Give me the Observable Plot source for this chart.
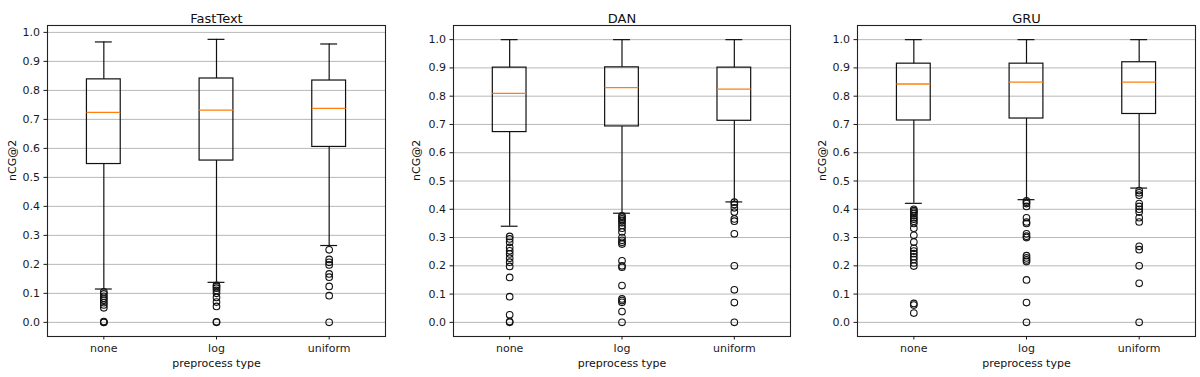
<!DOCTYPE html>
<html>
<head>
<meta charset="utf-8">
<script src="https://cdn.jsdelivr.net/npm/d3@7"></script>
<script src="https://cdn.jsdelivr.net/npm/@observablehq/plot@0.6"></script>
<style>
  html, body { margin: 0; padding: 0; background: #fff; }
  #row { display: flex; width: 1200px; height: 377px; }
  #row svg { display: block; }
</style>
</head>
<body>
<div id="row"></div>
<script>
// Categories and tick labels
const categories = ["none", "log", "uniform"];
const yTicks = [0, 0.1, 0.2, 0.3, 0.4, 0.5, 0.6, 0.7, 0.8, 0.9, 1.0];
const xLabel = "preprocess type";
const yLabel = "nCG@2";

// FastText
const fastTextLow    = [0.115, 0.138, 0.265];
const fastTextQ1     = [0.546, 0.558, 0.605];
const fastTextMedian = [0.724, 0.732, 0.738];
const fastTextQ3     = [0.838, 0.841, 0.834];
const fastTextHigh   = [0.967, 0.976, 0.960];
const fastTextOutliers = [
  [0.105, 0.098, 0.090, 0.083, 0.076, 0.068, 0.060, 0.050, 0.003, 0.0, 0.0],
  [0.128, 0.124, 0.118, 0.110, 0.100, 0.086, 0.070, 0.055, 0.002, 0.0],
  [0.250, 0.217, 0.207, 0.198, 0.167, 0.156, 0.124, 0.092, 0.0]
];

// DAN
const danLow    = [0.340, 0.386, 0.426];
const danQ1     = [0.673, 0.693, 0.713];
const danMedian = [0.810, 0.830, 0.825];
const danQ3     = [0.901, 0.902, 0.901];
const danHigh   = [1.0, 1.0, 1.0];
const danOutliers = [
  [0.304, 0.295, 0.283, 0.265, 0.253, 0.242, 0.227, 0.213, 0.198, 0.159, 0.091, 0.027, 0.003, 0.0],
  [0.377, 0.372, 0.366, 0.360, 0.352, 0.343, 0.333, 0.320, 0.300, 0.290, 0.283, 0.277, 0.218, 0.200, 0.195, 0.130, 0.083, 0.077, 0.071, 0.038, 0.0],
  [0.425, 0.417, 0.405, 0.390, 0.366, 0.358, 0.313, 0.200, 0.115, 0.070, 0.0]
];

// GRU
const gruLow    = [0.421, 0.434, 0.475];
const gruQ1     = [0.714, 0.721, 0.737];
const gruMedian = [0.843, 0.850, 0.850];
const gruQ3     = [0.915, 0.915, 0.920];
const gruHigh   = [1.0, 1.0, 1.0];
const gruOutliers = [
  [0.400, 0.395, 0.390, 0.385, 0.378, 0.370, 0.365, 0.358, 0.350, 0.333, 0.308, 0.284, 0.262, 0.252, 0.243, 0.232, 0.222, 0.210, 0.199, 0.067, 0.061, 0.033],
  [0.430, 0.425, 0.420, 0.410, 0.370, 0.355, 0.350, 0.313, 0.305, 0.300, 0.236, 0.228, 0.221, 0.215, 0.150, 0.070, 0.0],
  [0.466, 0.458, 0.450, 0.420, 0.410, 0.400, 0.390, 0.370, 0.355, 0.269, 0.257, 0.200, 0.138, 0.0]
];

const boxHalf = 0.15, capHalf = 0.075;
const ink = "#111";
const lw = 1.2;

function panel({title, low, q1, median, q3, high, outliers, yDomain, marginLeft, marginRight, yLabelDx}) {
  const boxes = categories.map((c, i) => ({
    pos: i + 1, low: low[i], q1: q1[i], median: median[i], q3: q3[i], high: high[i]
  }));
  const fliers = outliers.flatMap((arr, i) => arr.map(v => ({pos: i + 1, v})));
  return Plot.plot({
    width: 400,
    height: 377,
    marginTop: 25,
    marginBottom: 41,
    marginLeft,
    marginRight,
    style: {fontFamily: "DejaVu Sans", fontSize: "11px", background: "white", color: "#1a1a1a"},
    x: {domain: [0.5, 3.5], ticks: [1, 2, 3], tickFormat: d => categories[d - 1], label: null},
    y: {domain: yDomain, ticks: yTicks, tickFormat: d3.format(".1f"), label: null},
    marks: [
      Plot.gridY(yTicks, {stroke: "#b8b8b8", strokeOpacity: 1, strokeWidth: 1}),
      // whiskers
      Plot.ruleX(boxes, {x: "pos", y1: "q3", y2: "high", stroke: ink, strokeWidth: lw}),
      Plot.ruleX(boxes, {x: "pos", y1: "low", y2: "q1", stroke: ink, strokeWidth: lw}),
      // caps
      Plot.ruleY(boxes, {y: "high", x1: d => d.pos - capHalf, x2: d => d.pos + capHalf, stroke: ink, strokeWidth: lw}),
      Plot.ruleY(boxes, {y: "low", x1: d => d.pos - capHalf, x2: d => d.pos + capHalf, stroke: ink, strokeWidth: lw}),
      // boxes
      Plot.rect(boxes, {x1: d => d.pos - boxHalf, x2: d => d.pos + boxHalf, y1: "q1", y2: "q3", fill: "none", stroke: ink, strokeWidth: lw}),
      // medians
      Plot.ruleY(boxes, {y: "median", x1: d => d.pos - boxHalf, x2: d => d.pos + boxHalf, stroke: "#ff7f0e", strokeWidth: 1.3}),
      // outliers
      Plot.dot(fliers, {x: "pos", y: "v", r: 3.3, fill: "none", stroke: ink, strokeWidth: 1.1}),
      Plot.frame({stroke: "#222", strokeWidth: 1.1}),
      Plot.axisX({tickSize: 3.5, tickPadding: 4.5, label: null, tickFormat: d => categories[d - 1], ticks: [1, 2, 3]}),
      Plot.axisY({tickSize: 3.5, tickPadding: 4, label: null, ticks: yTicks, tickFormat: d3.format(".1f")}),
      Plot.text([title], {frameAnchor: "top", dy: -12, fontSize: 13, fill: "#111"}),
      Plot.text([xLabel], {frameAnchor: "bottom", dy: 30, fontSize: 11, fill: "#111"}),
      Plot.text([yLabel], {frameAnchor: "left", dx: yLabelDx, rotate: -90, fontSize: 11, fill: "#111"})
    ]
  });
}

const row = document.getElementById("row");
row.appendChild(panel({title: "FastText", low: fastTextLow, q1: fastTextQ1, median: fastTextMedian, q3: fastTextQ3, high: fastTextHigh, outliers: fastTextOutliers, yDomain: [-0.04875, 1.02375], marginLeft: 47, marginRight: 15, yLabelDx: -35}));
row.appendChild(panel({title: "DAN", low: danLow, q1: danQ1, median: danMedian, q3: danQ3, high: danHigh, outliers: danOutliers, yDomain: [-0.05, 1.05], marginLeft: 53, marginRight: 10, yLabelDx: -37}));
row.appendChild(panel({title: "GRU", low: gruLow, q1: gruQ1, median: gruMedian, q3: gruQ3, high: gruHigh, outliers: gruOutliers, yDomain: [-0.05, 1.05], marginLeft: 57, marginRight: 5, yLabelDx: -35}));
</script>
</body>
</html>
